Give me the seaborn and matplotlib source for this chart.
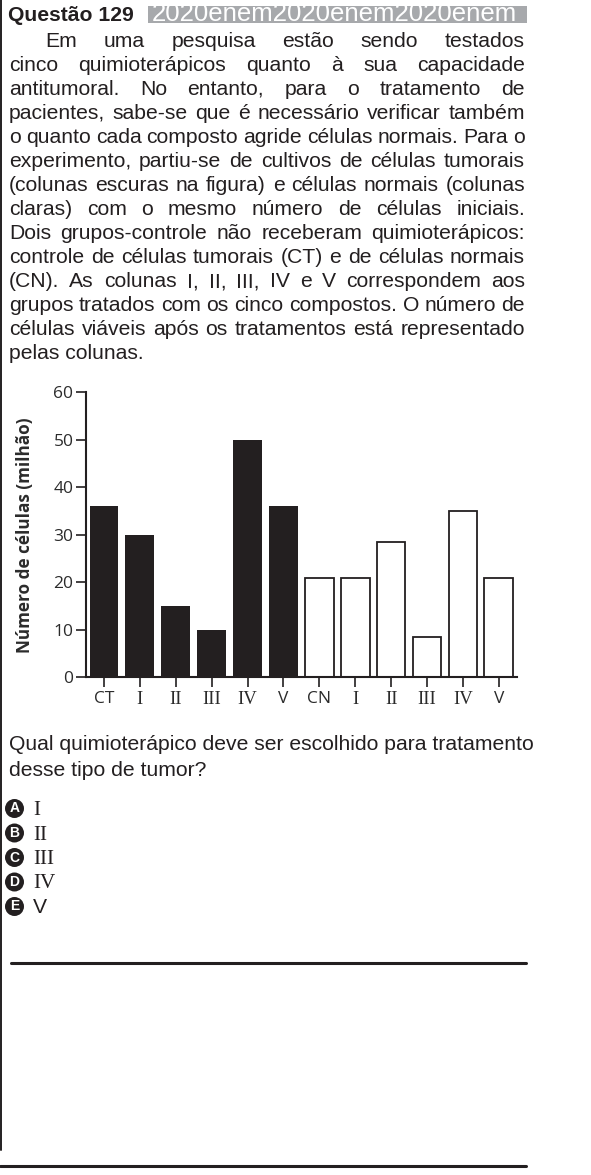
import numpy as np
import pandas as pd
import matplotlib
matplotlib.use("Agg")
import matplotlib.pyplot as plt
import seaborn as sns
from matplotlib.lines import Line2D
from matplotlib.patches import Rectangle

# ---------------- data ----------------
grupos = ["CT", "I", "II", "III", "IV", "V", "CN", "I", "II", "III", "IV", "V"]
tipo = ["tumoral"] * 6 + ["normal"] * 6
celulas = [36, 30, 15, 10, 50, 36, 21, 21, 28.5, 8.5, 35, 21]
y_ticks = [0, 10, 20, 30, 40, 50, 60]
y_label = "Número de células (milhão)"

titulo = "Questão 129"
marca = "2020enem2020enem2020enem"
paragrafo = [
    "Em uma pesquisa estão sendo testados",
    "cinco quimioterápicos quanto à sua capacidade",
    "antitumoral. No entanto, para o tratamento de",
    "pacientes, sabe-se que é necessário verificar também",
    "o quanto cada composto agride células normais. Para o",
    "experimento, partiu-se de cultivos de células tumorais",
    "(colunas escuras na figura) e células normais (colunas",
    "claras) com o mesmo número de células iniciais.",
    "Dois grupos-controle não receberam quimioterápicos:",
    "controle de células tumorais (CT) e de células normais",
    "(CN). As colunas I, II, III, IV e V correspondem aos",
    "grupos tratados com os cinco compostos. O número de",
    "células viáveis após os tratamentos está representado",
    "pelas colunas.",
]
pergunta = ["Qual quimioterápico deve ser escolhido para tratamento",
            "desse tipo de tumor?"]
letras = ["A", "B", "C", "D", "E"]
alternativas = ["I", "II", "III", "IV", "V"]

# ---------------- figure ----------------
W, H = 591, 1175
sns.set_theme(style="white")
plt.rcParams["font.family"] = ["Liberation Sans", "DejaVu Sans"]
INK = "#231f20"
GREY_TXT = "#2b2b2b"
fig = plt.figure(figsize=(W / 100, H / 100), dpi=100)
fig.patch.set_facecolor("white")
renderer = fig.canvas.get_renderer()


def fx(x):
    return x / W


def fy(y):
    return 1 - y / H


def width_of(s, **kw):
    t = fig.text(0, 0, s, **kw)
    w = t.get_window_extent(renderer).width
    t.remove()
    return w


# body font size fitted between the question line and the densest line
X0, X1 = 9, 525
wq = width_of(pergunta[0], fontsize=10)
wp = width_of(paragrafo[3], fontsize=10)
FS = 10 * (X1 - X0) / (0.5 * (wq + wp))

# header
fig.text(fx(8), fy(21), titulo, fontsize=FS * 1.0, fontweight="bold",
         color=INK, ha="left", va="baseline")
fig.add_artist(Rectangle((fx(148), fy(23)), fx(527) - fx(148), fy(6) - fy(23),
                         transform=fig.transFigure, facecolor="#a7a9ac",
                         edgecolor="none"))
wm10 = width_of(marca, fontsize=10)
fig.text(fx(152), fy(21), marca, fontsize=10 * 368 / wm10, color="white",
         ha="left", va="baseline")

# justified paragraph
base0, step = 47, 24.0
for i, line in enumerate(paragrafo):
    yb = fy(base0 + i * step)
    xs = 45 if i == 0 else X0
    if i == len(paragrafo) - 1:
        fig.text(fx(xs), yb, line, fontsize=FS, color=INK, ha="left",
                 va="baseline")
        continue
    words = line.split()
    ws = [width_of(w_, fontsize=FS) for w_ in words]
    gap = (X1 - xs - sum(ws)) / (len(words) - 1)
    x = xs
    for w_, wd in zip(words, ws):
        fig.text(fx(x), yb, w_, fontsize=FS, color=INK, ha="left",
                 va="baseline")
        x += wd + gap

# ---------------- chart ----------------
ax = fig.add_axes([fx(86), fy(677.3), fx(516.7) - fx(86), fy(392.3) - fy(677.3)])
df = pd.DataFrame({
    "pos": [f"{i}" for i in range(len(grupos))],
    "celulas": celulas,
    "tipo": tipo,
})
sns.barplot(data=df, x="pos", y="celulas", hue="tipo",
            palette={"tumoral": INK, "normal": "white"}, dodge=False,
            width=0.8, saturation=1, legend=False, ax=ax)
for p in ax.patches:
    fc = p.get_facecolor()
    if fc[0] > 0.9:
        p.set_edgecolor(INK)
        p.set_linewidth(1.3)
    else:
        p.set_edgecolor("none")
ax.set_xlim(-0.5, 11.5)
ax.set_ylim(0, 60)
ax.set_yticks(y_ticks)
ax.set_xticks(range(len(grupos)))
ax.set_xticklabels(grupos)
for lab, g in zip(ax.get_xticklabels(), grupos):
    if g in ("CT", "CN", "V"):
        lab.set_fontfamily("Open Sans")
        lab.set_fontsize(12.5)
    else:
        lab.set_fontfamily("Liberation Serif")
        lab.set_fontsize(13.5)
    lab.set_color(GREY_TXT)
for lab in ax.get_yticklabels():
    lab.set_fontfamily("Open Sans")
    lab.set_fontsize(12.5)
    lab.set_color(GREY_TXT)
ax.set_xlabel("")
ax.set_ylabel(y_label, fontfamily="Open Sans", fontweight="bold",
              fontsize=12.3, color=GREY_TXT)
ax.yaxis.set_label_coords((34 - 86) / (516.7 - 86), 0.5)
for s in ("top", "right"):
    ax.spines[s].set_visible(False)
for s in ("left", "bottom"):
    ax.spines[s].set_color(INK)
    ax.spines[s].set_linewidth(1.5)
ax.tick_params(axis="both", direction="out", length=7, width=1.2,
               color=INK, bottom=True, left=True)
ax.tick_params(axis="x", pad=3)
ax.tick_params(axis="y", pad=2)
ax.set_facecolor("none")

# ---------------- question & options ----------------
for i, line in enumerate(pergunta):
    fig.text(fx(X0), fy(750 + i * 25.5), line, fontsize=FS, color=INK,
             ha="left", va="baseline")

for i, (l, a) in enumerate(zip(letras, alternativas)):
    yc = 808.5 + i * 24.5
    fig.text(fx(14.5), fy(yc), l, fontsize=10, fontweight="bold",
             color="white", ha="center", va="center",
             bbox=dict(boxstyle="circle,pad=0.18", fc=INK, ec="none"))
    fam = "Liberation Sans" if a == "V" else "Liberation Serif"
    fig.text(fx(33), fy(yc + 6.5), a, fontsize=FS * 1.0, color=INK,
             fontfamily=fam, ha="left", va="baseline")

# ---------------- rules ----------------
fig.add_artist(Line2D([fx(1.5), fx(1.5)], [fy(0), fy(1150)], color=INK,
                      lw=1.4, transform=fig.transFigure))
fig.add_artist(Line2D([fx(11), fx(526)], [fy(963), fy(963)], color=INK,
                      lw=2.2, transform=fig.transFigure))
fig.add_artist(Line2D([fx(0), fx(526)], [fy(1166), fy(1166)], color=INK,
                      lw=2.2, transform=fig.transFigure))

fig.savefig("out.png", dpi=100, facecolor="white")
